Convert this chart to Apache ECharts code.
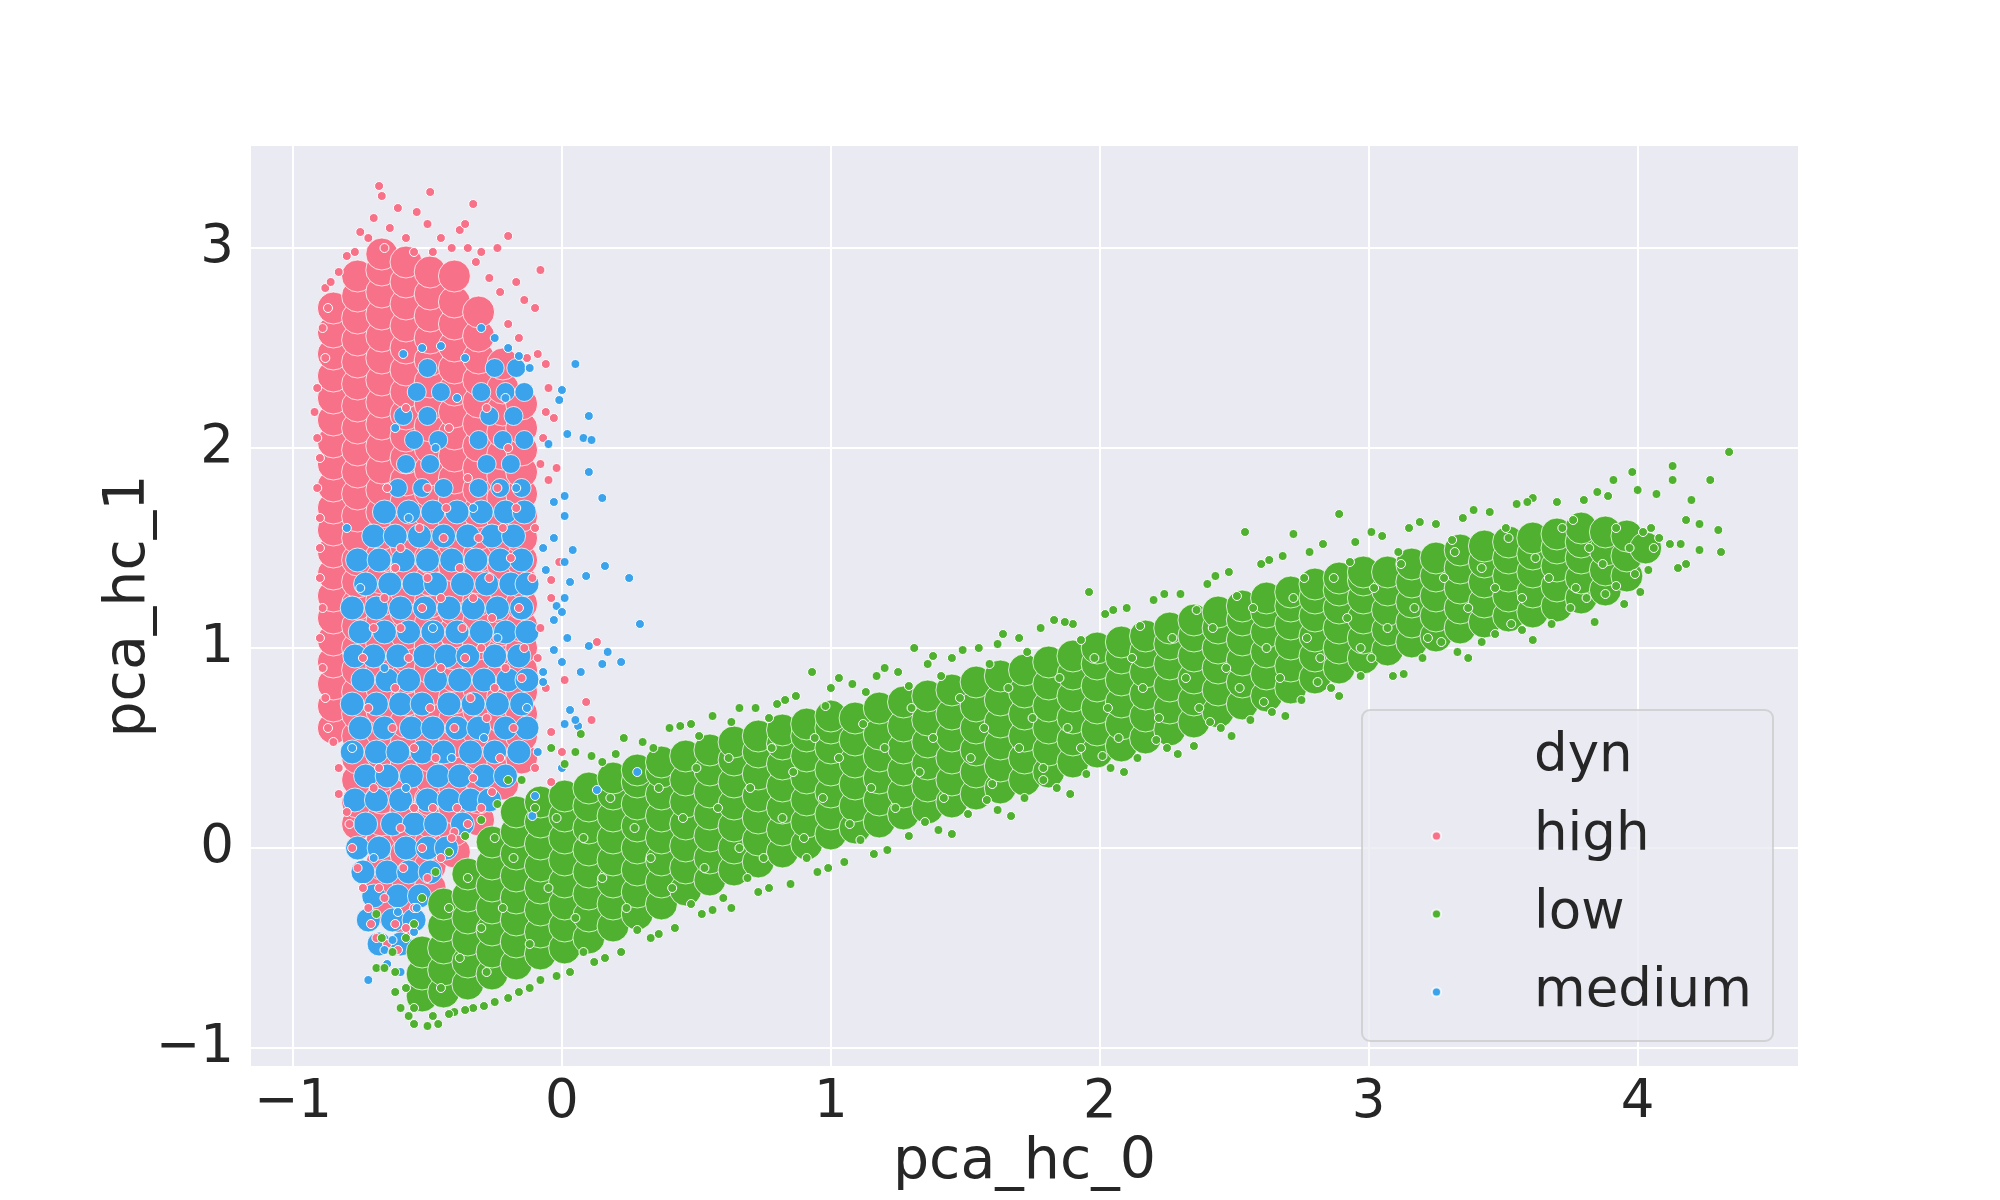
<!DOCTYPE html>
<html>
<head>
<meta charset="utf-8">
<title>pca_hc_0 vs pca_hc_1</title>
<script src="https://cdn.jsdelivr.net/npm/echarts@6.0.0/dist/echarts.min.js"></script>
<style>
  html, body { margin: 0; padding: 0; background: #ffffff; }
  #chart { width: 2000px; height: 1200px; }
</style>
</head>
<body>
<div id="chart"></div>
<script>
// scatter of pca_hc_0 / pca_hc_1 coloured by "dyn"
var FONT = 'DejaVu Sans';
var TEXT = '#262626';
var COLORS = { high: '#f77189', low: '#50b131', medium: '#3ba3ec' };
var LEGEND_NAMES = ['high', 'low', 'medium'];

// dense cores of the green and pink clouds, read as columns: x -> list of y
var lowCoreX = [-0.52,-0.44,-0.35,-0.26,-0.17,-0.08,0.01,0.1,0.19,0.28,0.37,0.46,0.55,0.64,0.73,0.82,0.91,1.0,1.09,1.18,1.27,1.36,1.45,1.54,1.63,1.72,1.81,1.9,1.99,2.08,2.17,2.26,2.35,2.44,2.53,2.62,2.71,2.8,2.89,2.98,3.07,3.16,3.25,3.34,3.43,3.52,3.61,3.7,3.79,3.88,3.96,4.03];
var lowCoreY = [
  [-0.74,-0.63,-0.52],
  [-0.72,-0.61,-0.5,-0.39,-0.28],
  [-0.68,-0.57,-0.46,-0.35,-0.24,-0.13],
  [-0.63,-0.52,-0.41,-0.3,-0.19,-0.08,0.03],
  [-0.58,-0.47,-0.36,-0.25,-0.14,-0.03,0.08,0.18],
  [-0.53,-0.42,-0.31,-0.2,-0.09,0.02,0.13,0.23],
  [-0.5,-0.39,-0.28,-0.17,-0.06,0.05,0.16,0.26],
  [-0.45,-0.34,-0.23,-0.12,-0.01,0.1,0.21,0.3],
  [-0.39,-0.28,-0.17,-0.06,0.05,0.16,0.27,0.35],
  [-0.33,-0.22,-0.11,0.0,0.11,0.22,0.33,0.39],
  [-0.28,-0.17,-0.06,0.05,0.16,0.27,0.38,0.43],
  [-0.21,-0.1,0.01,0.12,0.23,0.34,0.46],
  [-0.16,-0.05,0.06,0.17,0.28,0.39,0.49],
  [-0.11,0.0,0.11,0.22,0.33,0.44,0.53],
  [-0.07,0.04,0.15,0.26,0.37,0.48,0.56],
  [-0.02,0.09,0.2,0.31,0.42,0.52,0.59],
  [0.02,0.13,0.24,0.35,0.46,0.56,0.62],
  [0.07,0.17,0.28,0.39,0.5,0.6,0.66],
  [0.1,0.21,0.32,0.43,0.54,0.65],
  [0.13,0.24,0.35,0.46,0.57,0.7],
  [0.17,0.28,0.39,0.5,0.61,0.73],
  [0.2,0.31,0.42,0.53,0.64,0.76],
  [0.23,0.34,0.45,0.56,0.67,0.79],
  [0.27,0.38,0.49,0.6,0.71,0.83],
  [0.3,0.41,0.52,0.63,0.74,0.86],
  [0.34,0.45,0.56,0.67,0.78,0.89],
  [0.38,0.49,0.6,0.71,0.82,0.93],
  [0.43,0.54,0.65,0.76,0.87,0.96],
  [0.48,0.59,0.7,0.81,0.92,1.0],
  [0.51,0.62,0.73,0.84,0.95,1.03],
  [0.55,0.66,0.77,0.88,0.98,1.06],
  [0.59,0.7,0.81,0.92,1.02,1.1],
  [0.63,0.74,0.85,0.96,1.06,1.14],
  [0.68,0.79,0.9,1.0,1.1,1.18],
  [0.72,0.83,0.94,1.04,1.14,1.21],
  [0.76,0.87,0.98,1.08,1.18,1.25],
  [0.8,0.91,1.02,1.12,1.21,1.28],
  [0.85,0.96,1.06,1.16,1.25,1.32],
  [0.9,1.0,1.1,1.2,1.29,1.35],
  [0.95,1.05,1.15,1.25,1.34,1.38],
  [0.99,1.09,1.19,1.29,1.38],
  [1.03,1.13,1.23,1.33,1.42],
  [1.06,1.16,1.26,1.36,1.45],
  [1.1,1.2,1.3,1.4,1.49],
  [1.13,1.23,1.33,1.43,1.51],
  [1.16,1.26,1.36,1.45,1.53],
  [1.18,1.28,1.38,1.47,1.55],
  [1.21,1.31,1.41,1.5,1.57],
  [1.25,1.35,1.45,1.53,1.6],
  [1.29,1.39,1.49,1.58],
  [1.36,1.46,1.56],
  [1.5]
];

var highCoreX = [-0.85,-0.76,-0.67,-0.58,-0.49,-0.4,-0.31,-0.22,-0.15];
var highCoreY = [
  [0.6,0.71,0.82,0.93,1.04,1.15,1.26,1.37,1.48,1.59,1.7,1.81,1.92,2.03,2.14,2.25,2.36,2.47,2.58,2.7],
  [0.12,0.23,0.34,0.45,0.56,0.67,0.78,0.89,1.0,1.11,1.22,1.33,1.44,1.55,1.66,1.77,1.88,1.99,2.1,2.21,2.32,2.43,2.54,2.65,2.76,2.86],
  [-0.3,-0.19,-0.08,0.03,0.14,0.25,0.36,0.47,0.58,0.69,0.8,0.91,1.02,1.13,1.24,1.35,1.46,1.57,1.68,1.79,1.9,2.01,2.12,2.23,2.34,2.45,2.56,2.67,2.78,2.89,2.97],
  [-0.36,-0.25,-0.14,-0.03,0.08,0.19,0.3,0.41,0.52,0.63,0.74,0.85,0.96,1.07,1.18,1.29,1.4,1.51,1.62,1.73,1.84,1.95,2.06,2.17,2.28,2.39,2.5,2.61,2.72,2.83,2.93],
  [-0.2,-0.09,0.02,0.13,0.24,0.35,0.46,0.57,0.68,0.79,0.9,1.01,1.12,1.23,1.34,1.45,1.56,1.67,1.78,1.89,2.0,2.11,2.22,2.33,2.44,2.55,2.66,2.77,2.88],
  [-0.02,0.09,0.2,0.31,0.42,0.53,0.64,0.75,0.86,0.97,1.08,1.19,1.3,1.41,1.52,1.63,1.74,1.85,1.96,2.07,2.18,2.29,2.4,2.51,2.62,2.73,2.86],
  [0.14,0.25,0.36,0.47,0.58,0.69,0.8,0.91,1.02,1.13,1.24,1.35,1.46,1.57,1.68,1.79,1.9,2.01,2.12,2.23,2.34,2.45,2.56,2.68],
  [0.32,0.43,0.54,0.65,0.76,0.87,0.98,1.09,1.2,1.31,1.42,1.53,1.64,1.75,1.86,1.97,2.08,2.19,2.3,2.42],
  [0.45,0.56,0.67,0.78,0.89,1.0,1.11,1.22,1.33,1.44,1.55,1.66,1.77,1.88,1.99,2.1,2.22]
];

// blue share of the left cloud, read row by row: y -> list of x
var mediumCoreY = [-0.48,-0.36,-0.24,-0.12,0.0,0.12,0.24,0.36,0.48,0.6,0.72,0.84,0.96,1.08,1.2,1.32,1.44,1.56,1.68,1.8,1.92,2.04,2.16,2.28,2.4];
var mediumCoreX = [
  [-0.68,-0.6],
  [-0.72,-0.63,-0.55],
  [-0.7,-0.61,-0.53],
  [-0.74,-0.65,-0.57,-0.49],
  [-0.76,-0.68,-0.58,-0.5,-0.43],
  [-0.73,-0.63,-0.55,-0.47,-0.37],
  [-0.77,-0.69,-0.6,-0.5,-0.42,-0.34,-0.27],
  [-0.73,-0.65,-0.56,-0.46,-0.38,-0.29,-0.21],
  [-0.78,-0.69,-0.61,-0.52,-0.44,-0.34,-0.25,-0.16],
  [-0.75,-0.66,-0.56,-0.48,-0.39,-0.31,-0.21,-0.13],
  [-0.78,-0.69,-0.6,-0.52,-0.42,-0.33,-0.24,-0.15],
  [-0.74,-0.65,-0.57,-0.47,-0.38,-0.29,-0.2,-0.13],
  [-0.77,-0.7,-0.61,-0.51,-0.43,-0.35,-0.25,-0.16],
  [-0.75,-0.66,-0.57,-0.48,-0.39,-0.3,-0.21,-0.13],
  [-0.78,-0.69,-0.6,-0.51,-0.42,-0.33,-0.24,-0.15],
  [-0.73,-0.64,-0.55,-0.47,-0.37,-0.28,-0.19,-0.13],
  [-0.76,-0.68,-0.59,-0.5,-0.41,-0.32,-0.23,-0.15],
  [-0.7,-0.62,-0.53,-0.44,-0.35,-0.26,-0.18],
  [-0.66,-0.57,-0.48,-0.39,-0.3,-0.21,-0.14],
  [-0.61,-0.52,-0.44,-0.31,-0.23,-0.15],
  [-0.58,-0.49,-0.28,-0.19],
  [-0.55,-0.46,-0.31,-0.22,-0.14],
  [-0.59,-0.5,-0.27,-0.18],
  [-0.54,-0.45,-0.3,-0.21,-0.14],
  [-0.5,-0.25,-0.17]
];

// single points: cloud edges, stragglers and texture inside the clouds
var lowPts = [
  [-0.55,-0.88],[-0.5,-0.89],[-0.46,-0.88],[-0.69,-0.6],[-0.66,-0.6],[-0.69,-0.33],[-0.67,-0.45],[-0.62,-0.72],[-0.6,-0.8],[-0.57,-0.84],
  [-0.62,-0.62],[-0.63,-0.52],[-0.58,-0.45],[-0.55,-0.38],[-0.52,-0.25],[-0.47,-0.12],[-0.42,-0.02],[-0.36,0.06],[-0.3,0.14],[-0.24,0.22],
  [-0.4,-0.82],[-0.33,-0.8],[-0.25,-0.77],[-0.16,-0.72],[-0.08,-0.66],[0.03,-0.62],[0.12,-0.57],[0.22,-0.52],[0.33,-0.45],[0.42,-0.4],
  [0.52,-0.33],[0.63,-0.3],[0.6,-0.25],[0.73,-0.22],[0.85,-0.18],[0.95,-0.12],[1.05,-0.07],[1.16,-0.03],[1.29,0.06],[1.4,0.09],
  [1.51,0.17],[1.62,0.19],[1.72,0.25],[1.84,0.3],[1.95,0.37],[2.04,0.4],[2.14,0.45],[2.25,0.5],[2.35,0.51],[2.45,0.6],
  [2.56,0.64],[2.64,0.68],[2.75,0.74],[2.86,0.8],[2.97,0.86],[3.09,0.86],[3.2,0.95],[3.33,0.98],[3.42,1.03],[3.47,1.07],
  [3.57,1.09],[3.68,1.12],[3.81,1.25],[3.88,1.27],[3.95,1.22],
  [-0.2,0.34],[-0.15,0.34],[-0.04,0.5],[0.01,0.42],[0.05,0.48],[0.07,0.57],[0.11,0.46],[0.2,0.47],[0.3,0.53],[0.4,0.6],
  [0.48,0.62],[0.56,0.66],[0.63,0.63],[0.72,0.7],[0.8,0.72],[0.87,0.76],[0.93,0.88],[1.0,0.8],[1.08,0.82],[1.17,0.86],
  [1.25,0.88],[1.31,1.0],[1.38,0.96],[1.45,0.95],[1.55,1.0],[1.62,1.02],[1.7,1.05],[1.78,1.1],[1.83,1.14],[1.9,1.12],
  [1.96,1.28],[2.02,1.17],[2.1,1.2],[2.2,1.24],[2.3,1.27],[2.4,1.32],[2.48,1.38],[2.54,1.58],[2.6,1.42],[2.68,1.46],
  [2.72,1.57],[2.78,1.48],[2.89,1.67],[2.95,1.53],[3.05,1.56],[3.15,1.6],[3.25,1.62],[3.35,1.65],[3.45,1.68],[3.55,1.72],
  [3.61,1.75],[3.7,1.73],[3.8,1.74],[3.85,1.78],[3.91,1.84],[3.98,1.88],[4.0,1.79],[4.07,1.77],[4.13,1.91],[4.13,1.84],
  [4.2,1.74],[4.27,1.84],[4.34,1.98],[4.31,1.48],[4.3,1.59],[4.23,1.62],[4.18,1.64],[4.23,1.49],[4.15,1.4],[4.18,1.42],
  [4.16,1.52],[4.12,1.52],[4.04,1.39],[3.99,1.37],[4.05,1.6],[4.08,1.55],
  [0.15,0.43],[0.23,0.55],[0.34,0.5],[0.44,0.61],[0.51,0.56],[0.66,0.7],[0.77,0.65],[0.83,0.74],[0.98,0.71],[1.03,0.85],
  [1.13,0.78],[1.2,0.9],[1.29,0.81],[1.36,0.92],[1.41,0.86],[1.49,0.99],[1.59,0.92],[1.64,1.07],[1.73,0.98],[1.87,1.13],
  [1.93,1.04],[2.05,1.19],[2.15,1.11],[2.24,1.27],[2.36,1.19],[2.43,1.36],[2.51,1.26],[2.63,1.44],[2.76,1.35],[2.83,1.52],
  [2.93,1.43],[3.01,1.58],[3.11,1.48],[3.19,1.63],[3.31,1.54],[3.39,1.69],[3.51,1.6],[3.59,1.73],[3.76,1.64],[3.89,1.76],
  [-0.02,-0.64],[0.08,-0.52],[0.16,-0.55],[0.28,-0.41],[0.36,-0.43],[0.48,-0.28],[0.56,-0.31],[0.69,-0.15],[0.77,-0.2],[0.91,-0.05],
  [0.99,-0.1],[1.11,0.04],[1.21,-0.01],[1.35,0.13],[1.45,0.07],[1.58,0.24],[1.67,0.16],[1.79,0.34],[1.89,0.27],[2.01,0.46],
  [2.09,0.38],[2.21,0.54],[2.29,0.47],[2.41,0.63],[2.49,0.56],[2.61,0.73],[2.69,0.66],[2.81,0.83],[2.89,0.76],[3.01,0.95],
  [3.13,0.87],[3.27,1.03],[3.37,0.95],[3.53,1.12],[3.61,1.04],[3.75,1.2],[3.84,1.13],[3.92,1.31],[4.01,1.28],[4.06,1.5],
  [-0.58,-0.7],[-0.55,-0.8],[-0.48,-0.84],[-0.42,-0.83],[-0.36,-0.81],[-0.29,-0.79],[-0.2,-0.75],[-0.12,-0.7],
  [-0.45,-0.7],[-0.38,-0.55],[-0.3,-0.4],[-0.42,-0.3],[-0.35,-0.15],[-0.28,-0.62],[-0.22,-0.3],[-0.18,-0.05],[-0.12,-0.48],[-0.05,-0.2],
  [-0.02,0.15],[-0.1,0.2],[-0.25,0.05],[0.05,-0.35],[0.08,0.05],[0.15,-0.15],[0.18,0.25],[0.24,-0.3],[0.27,0.1],[0.33,-0.05],
  [0.36,0.3],[0.41,-0.2],[0.45,0.15],[0.5,0.4],[0.53,-0.1],[0.58,0.2],[0.62,0.45],[0.66,0.0],[0.7,0.3],[0.75,-0.05],
  [0.78,0.5],[0.82,0.15],[0.86,0.38],[0.9,0.05],[0.94,0.55],[0.97,0.25],[1.03,0.45],[1.07,0.12],[1.12,0.62],[1.15,0.3],
  [1.2,0.5],[1.24,0.2],[1.3,0.7],[1.33,0.38],[1.38,0.55],[1.42,0.25],[1.48,0.75],[1.52,0.45],[1.57,0.6],[1.6,0.32],
  [1.66,0.8],[1.7,0.5],[1.75,0.65],[1.79,0.4],[1.85,0.85],[1.88,0.6],[1.93,0.5],[1.98,0.95],[2.03,0.7],[2.07,0.55],
  [2.12,0.95],[2.16,0.8],[2.22,0.65],[2.27,1.05],[2.32,0.85],[2.37,0.7],[2.42,1.1],[2.47,0.9],[2.52,0.8],[2.57,1.2],
  [2.62,1.0],[2.67,0.85],[2.72,1.25],[2.77,1.05],[2.82,0.95],[2.87,1.35],[2.92,1.15],[2.97,1.0],[3.02,1.3],[3.07,1.1],
  [3.12,1.42],[3.17,1.2],[3.22,1.05],[3.28,1.35],[3.32,1.48],[3.37,1.2],[3.42,1.4],[3.47,1.3],[3.52,1.55],[3.57,1.25],
  [3.62,1.45],[3.67,1.35],[3.72,1.6],[3.77,1.3],[3.82,1.5],[3.87,1.42],[3.92,1.6],[3.97,1.5],[4.02,1.58]
];

var highPts = [
  [-0.68,3.31],[-0.67,3.26],[-0.49,3.28],[-0.33,3.22],[-0.2,3.06],[-0.24,3.0],[-0.08,2.89],[-0.14,2.74],[-0.1,2.7],[-0.06,2.42],
  [-0.09,2.47],[-0.06,2.18],[-0.08,1.92],[-0.05,1.84],[-0.88,2.8],[-0.86,2.83],[-0.77,2.98],[-0.8,2.96],[-0.61,3.2],[-0.54,3.18],
  [-0.38,3.09],[-0.36,3.12],[-0.32,2.93],[-0.17,2.83],[-0.72,3.05],[-0.64,3.1],[-0.58,3.05],[-0.5,3.12],[-0.45,3.05],[-0.41,3.0],
  [-0.35,3.0],[-0.3,2.98],[-0.27,2.85],[-0.23,2.78],[-0.2,2.62],[-0.16,2.55],[-0.13,2.45],[-0.7,3.15],[-0.55,2.98],[-0.83,2.88],
  [-0.75,3.08],[-0.66,3.0],[-0.48,2.98],
  [-0.91,2.3],[-0.92,2.18],[-0.91,2.05],[-0.9,1.95],[-0.91,1.8],[-0.9,1.65],[-0.9,1.5],[-0.9,1.35],[-0.89,1.2],[-0.9,1.05],
  [-0.89,0.9],[-0.88,0.75],[-0.87,0.6],[-0.85,0.53],[-0.83,0.4],[-0.83,0.27],[-0.8,0.18],[-0.79,0.12],[-0.78,0.0],[-0.76,-0.1],
  [-0.74,-0.2],[-0.72,-0.3],[-0.71,-0.38],[-0.69,-0.45],[-0.61,-0.51],[-0.65,-0.48],[-0.88,2.45],[-0.89,2.6],[-0.87,2.7],
  [0.09,0.73],[0.11,0.64],[0.13,1.03],[0.01,0.84],[-0.06,0.8],[-0.04,1.25],[-0.04,1.34],[-0.01,1.43],[-0.04,0.58],[0.0,0.48],
  [-0.04,0.33],[-0.07,2.05],[-0.05,2.3],[-0.03,2.15],[-0.1,1.6],[-0.08,1.1],[-0.09,0.95],[-0.1,0.4],[-0.02,1.9],[-0.11,1.35],
  [-0.58,-0.4],[-0.55,-0.3],[-0.62,-0.38],[-0.5,-0.15],[-0.45,-0.05],[-0.4,0.08],[-0.35,0.12],[-0.3,0.2],[-0.26,0.28],[-0.66,-0.25],
  [-0.6,1.5],[-0.52,1.2],[-0.45,0.9],[-0.38,1.4],[-0.3,1.0],[-0.22,1.6],[-0.16,1.2],[-0.62,0.8],[-0.55,0.5],[-0.48,0.2],
  [-0.4,0.6],[-0.33,0.35],[-0.25,0.8],[-0.18,0.6],[-0.7,1.1],[-0.68,0.4],[-0.6,0.1],[-0.5,1.8],[-0.42,2.1],[-0.35,1.85],
  [-0.28,2.2],[-0.2,2.0],[-0.58,2.2],[-0.52,0.0],[-0.44,1.55],[-0.36,0.95],[-0.27,1.35],[-0.15,0.85],[-0.65,1.8],[-0.72,0.7],
  [-0.7,0.3],[-0.63,0.6],[-0.57,0.95],[-0.5,1.35],[-0.43,1.7],[-0.34,0.75],[-0.26,1.15],[-0.19,1.45],[-0.14,1.0],[-0.66,1.25],
  [-0.59,-0.1],[-0.47,0.45],[-0.39,0.2],[-0.31,1.55],[-0.23,0.45],[-0.17,1.7],[-0.74,0.95],[-0.62,1.4],[-0.55,0.2],[-0.45,1.25],
  [-0.37,1.1],[-0.28,0.65],[-0.21,0.9],[-0.53,1.6],[-0.41,0.05],[-0.68,-0.2],[-0.6,1.1],[-0.49,0.7],[-0.33,1.25],[-0.24,1.8]
];

var mediumPts = [
  [0.05,2.42],[-0.16,2.46],[-0.45,2.51],[-0.59,2.47],[0.0,2.29],[-0.01,2.24],[0.1,2.16],[0.08,2.05],[0.11,2.04],[0.02,2.07],
  [-0.05,2.02],[0.1,1.88],[0.15,1.75],[0.01,1.76],[-0.03,1.73],[0.01,1.66],[0.16,1.41],[0.25,1.35],[0.09,1.36],[0.04,1.49],
  [-0.03,1.55],[-0.07,1.5],[0.01,1.43],[0.29,1.12],[0.03,1.33],[0.01,1.25],[-0.06,1.39],[-0.02,1.21],[0.0,1.18],[-0.03,1.14],
  [0.1,1.01],[0.17,0.98],[0.22,0.93],[0.15,0.92],[0.07,0.88],[0.02,1.05],[-0.03,0.99],[0.0,0.93],[-0.07,0.88],[-0.07,0.83],
  [0.03,0.69],[0.01,0.62],[0.06,0.61],[-0.09,0.48],[0.0,0.4],[0.13,0.29],[0.28,0.38],[-0.1,0.26],[-0.11,0.16],[0.05,0.64],
  [-0.3,2.6],[-0.25,2.55],[-0.2,2.5],[-0.12,2.4],[-0.36,2.45],[-0.52,2.5],
  [-0.66,-0.51],[-0.72,-0.66],[-0.63,-0.46],[-0.61,-0.32],[-0.55,-0.42],[-0.54,-0.3],[-0.65,-0.58],[-0.6,-0.62],
  [-0.75,1.3],[-0.66,0.9],[-0.57,1.65],[-0.48,1.1],[-0.41,0.45],[-0.33,1.7],[-0.24,1.05],[-0.17,1.8],[-0.13,0.7],[-0.78,0.5],
  [-0.7,-0.05],[-0.58,0.3],[-0.47,2.0],[-0.39,2.25],[-0.29,0.55],[-0.21,2.25],[-0.8,1.6],[-0.62,2.1]
];

function colsToPoints(xs, ys) {
  var out = [];
  for (var i = 0; i < xs.length; i++) {
    for (var j = 0; j < ys[i].length; j++) {
      out.push([xs[i], ys[i][j]]);
    }
  }
  return out;
}

function rowsToPoints(ys, xs) {
  var out = [];
  for (var i = 0; i < ys.length; i++) {
    for (var j = 0; j < xs[i].length; j++) {
      out.push([xs[i][j], ys[i]]);
    }
  }
  return out;
}

// matplotlib style minus sign, only whole-number ticks
function tickFmt(v) {
  if (Math.abs(v - Math.round(v)) > 1e-6) return '';
  return v < 0 ? '\u2212' + Math.abs(v) : String(v);
}

// big filled markers stand in for the packed middle of each cloud
function coreSeries(name, data, size) {
  return {
    name: name, type: 'scatter', data: data, symbolSize: size,
    itemStyle: { color: COLORS[name], borderColor: 'rgba(255,255,255,0.75)', borderWidth: 1, opacity: 1 },
    emphasis: { disabled: true }, silent: true
  };
}

function ptSeries(name, data) {
  return {
    name: name, type: 'scatter', data: data, symbolSize: 9,
    itemStyle: { color: COLORS[name], borderColor: '#ffffff', borderWidth: 1, opacity: 1 },
    emphasis: { disabled: true }, silent: true
  };
}

// blue thins out in the upper part of the left cloud
function mediumCoreSize(val) {
  return val[1] > 1.75 ? 19 : 24;
}

var chart = echarts.init(document.getElementById('chart'));

var axisLabel = { fontSize: 53, color: TEXT, fontFamily: FONT, formatter: tickFmt };

chart.setOption({
  animation: false,
  backgroundColor: '#ffffff',
  grid: {
    left: 250, right: 201, top: 145, bottom: 133,
    show: true, backgroundColor: '#eaeaf2', borderWidth: 0
  },
  xAxis: {
    type: 'value', min: -1.16, max: 4.6, minInterval: 1, maxInterval: 1,
    axisLine: { show: false }, axisTick: { show: false },
    splitLine: { lineStyle: { color: '#ffffff', width: 2 } },
    axisLabel: Object.assign({ margin: 10 }, axisLabel),
    name: 'pca_hc_0', nameLocation: 'middle', nameGap: 68,
    nameTextStyle: { fontSize: 57, color: TEXT, fontFamily: FONT }
  },
  yAxis: {
    type: 'value', min: -1.095, max: 3.515, minInterval: 1, maxInterval: 1,
    axisLine: { show: false }, axisTick: { show: false },
    splitLine: { lineStyle: { color: '#ffffff', width: 2 } },
    axisLabel: Object.assign({ margin: 16 }, axisLabel),
    name: 'pca_hc_1', nameLocation: 'middle', nameGap: 92, nameMoveOverlap: false,
    nameTextStyle: { fontSize: 57, color: TEXT, fontFamily: FONT }
  },
  legend: {
    data: LEGEND_NAMES, orient: 'vertical', left: 1431, top: 806, padding: 0,
    itemWidth: 9, itemHeight: 9, itemGap: 18, icon: 'circle',
    selectedMode: false, z: 20,
    textStyle: { fontSize: 53, color: TEXT, fontFamily: FONT, lineHeight: 60, padding: [0, 0, 0, 88] }
  },
  graphic: [
    {
      type: 'rect', z: 10, silent: true,
      shape: { x: 1362, y: 710, width: 411, height: 331, r: 8 },
      style: { fill: 'rgba(234,234,242,0.8)', stroke: 'rgba(204,204,204,0.8)', lineWidth: 2 }
    },
    {
      type: 'text', z: 11, silent: true, x: 1534, y: 757,
      style: { text: 'dyn', fontSize: 53, fontFamily: FONT, fill: TEXT, verticalAlign: 'middle' }
    }
  ],
  series: [
    coreSeries('high', colsToPoints(highCoreX, highCoreY), 32),
    coreSeries('medium', rowsToPoints(mediumCoreY, mediumCoreX), mediumCoreSize),
    coreSeries('low', colsToPoints(lowCoreX, lowCoreY), 32),
    ptSeries('high', highPts),
    ptSeries('medium', mediumPts),
    ptSeries('low', lowPts)
  ]
});
</script>
</body>
</html>
